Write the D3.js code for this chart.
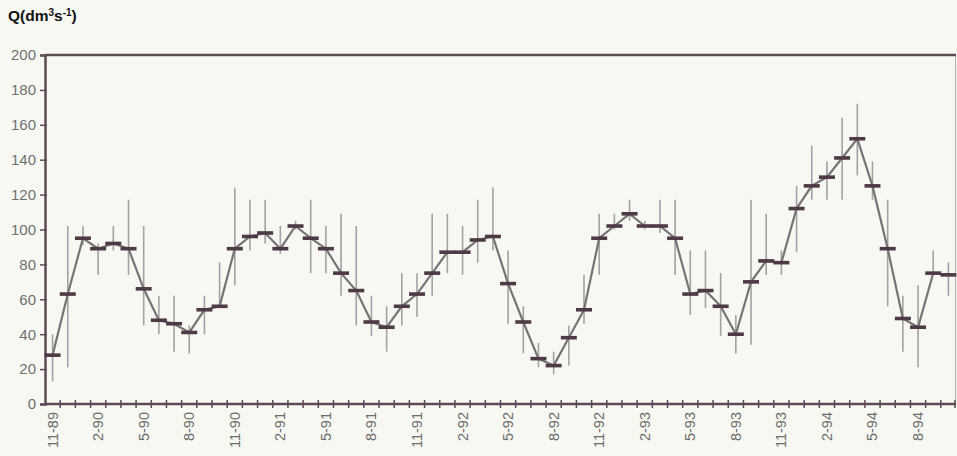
<!DOCTYPE html>
<html>
<head>
<meta charset="utf-8">
<script src="https://cdn.jsdelivr.net/npm/d3@7"></script>
<style>
  html, body { margin: 0; padding: 0; background: #f8f8f3; }
  svg { display: block; }
</style>
</head>
<body>
<svg id="chart" width="957" height="456"></svg>
<script>
// Monthly discharge, Nov 1989 – Oct 1994: monthly mean with its min–max range
const months = [
  "11-89","12-89","1-90","2-90","3-90","4-90","5-90","6-90","7-90","8-90","9-90","10-90",
  "11-90","12-90","1-91","2-91","3-91","4-91","5-91","6-91","7-91","8-91","9-91","10-91",
  "11-91","12-91","1-92","2-92","3-92","4-92","5-92","6-92","7-92","8-92","9-92","10-92",
  "11-92","12-92","1-93","2-93","3-93","4-93","5-93","6-93","7-93","8-93","9-93","10-93",
  "11-93","12-93","1-94","2-94","3-94","4-94","5-94","6-94","7-94","8-94","9-94","10-94"
];
const meanQ = [
  28, 63, 95, 89, 92, 89, 66, 48, 46, 41, 54, 56,
  89, 96, 98, 89, 102, 95, 89, 75, 65, 47, 44, 56,
  63, 75, 87, 87, 94, 96, 69, 47, 26, 22, 38, 54,
  95, 102, 109, 102, 102, 95, 63, 65, 56, 40, 70, 82,
  81, 112, 125, 130, 141, 152, 125, 89, 49, 44, 75, 74
];
const minQ = [
  13, 21, 91, 74, 88, 74, 45, 40, 30, 29, 40, 55,
  68, 88, 92, 86, 100, 75, 75, 62, 45, 39, 30, 45,
  50, 62, 75, 74, 81, 88, 46, 29, 21, 17, 22, 46,
  74, 100, 105, 100, 98, 74, 51, 55, 39, 29, 34, 74,
  74, 87, 117, 117, 117, 131, 117, 56, 30, 21, 74, 62
];
const maxQ = [
  40, 102, 102, 92, 102, 117, 102, 62, 62, 45, 62, 81,
  124, 117, 117, 102, 105, 117, 102, 109, 102, 62, 56, 75,
  75, 109, 109, 102, 117, 124, 88, 56, 35, 30, 45, 74,
  109, 109, 117, 105, 117, 117, 88, 88, 75, 51, 117, 109,
  88, 125, 148, 139, 164, 172, 139, 117, 62, 68, 88, 81
];
const yTicks = [0, 20, 40, 60, 80, 100, 120, 140, 160, 180, 200];
const shownMonths = months.filter((m, i) => i % 3 === 0);

const data = months.map((m, i) => ({ month: m, mean: meanQ[i], lo: minQ[i], hi: maxQ[i] }));

const svg = d3.select("#chart");
const plotLeft = 45, plotRight = 956, plotTop = 55, plotBottom = 404;

const x = d3.scaleBand().domain(months).range([plotLeft, plotRight]).paddingInner(0).paddingOuter(0);
const y = d3.scaleLinear().domain([0, 200]).range([plotBottom, plotTop]);
const cx = m => x(m) + x.bandwidth() / 2;

const axisColor = "#5d4b53";
const labelFont = "Arial, 'Liberation Sans', sans-serif";

// right frame line
svg.append("line")
  .attr("x1", plotRight - 0.5).attr("x2", plotRight - 0.5)
  .attr("y1", plotTop).attr("y2", plotBottom)
  .attr("stroke", "#b8b0b3").attr("stroke-width", 1);

// top frame line
svg.append("line")
  .attr("x1", plotLeft).attr("x2", plotRight)
  .attr("y1", plotTop).attr("y2", plotTop)
  .attr("stroke", axisColor).attr("stroke-width", 2.5);

// y axis
const yAxis = svg.append("g")
  .attr("transform", `translate(${plotLeft},0)`)
  .call(d3.axisLeft(y).tickValues(yTicks).tickSize(5).tickPadding(4).tickFormat(d3.format("d")));
yAxis.select(".domain").attr("stroke", axisColor).attr("stroke-width", 2.5);
yAxis.selectAll(".tick line").attr("stroke", axisColor).attr("stroke-width", 1.5).attr("x2", -5).attr("x1", 2);
yAxis.selectAll(".tick text")
  .attr("fill", "#707070")
  .style("font-family", labelFont)
  .style("font-size", "15px");

// x axis: ticks at month boundaries, labels every third month
const xAxisG = svg.append("g").attr("transform", `translate(0,${plotBottom})`);
xAxisG.append("line")
  .attr("x1", plotLeft).attr("x2", plotRight)
  .attr("stroke", axisColor).attr("stroke-width", 2.5);
xAxisG.selectAll("line.tk")
  .data(months.slice(1).concat(["end"]))
  .join("line")
  .attr("class", "tk")
  .attr("x1", (d, i) => i < months.length - 1 ? x(d) : plotRight - 1)
  .attr("x2", (d, i) => i < months.length - 1 ? x(d) : plotRight - 1)
  .attr("y1", -4).attr("y2", 4)
  .attr("stroke", axisColor).attr("stroke-width", 1.5);
xAxisG.selectAll("text")
  .data(shownMonths)
  .join("text")
  .attr("transform", d => `translate(${cx(d) + 5},8) rotate(-90)`)
  .attr("text-anchor", "end")
  .attr("fill", "#6c6c6c")
  .style("font-family", labelFont)
  .style("font-size", "14.5px")
  .text(d => d);

// range whiskers
svg.append("g").selectAll("line")
  .data(data)
  .join("line")
  .attr("x1", d => cx(d.month)).attr("x2", d => cx(d.month))
  .attr("y1", d => y(d.lo)).attr("y2", d => y(d.hi))
  .attr("stroke", "#a3a1a1").attr("stroke-width", 1.6);

// line through the monthly means
svg.append("path")
  .datum(data)
  .attr("fill", "none")
  .attr("stroke", "#767474")
  .attr("stroke-width", 2.2)
  .attr("d", d3.line().x(d => cx(d.month)).y(d => y(d.mean)));

// mean markers
svg.append("g").selectAll("rect")
  .data(data)
  .join("rect")
  .attr("x", d => cx(d.month) - 8)
  .attr("y", d => y(d.mean) - 1.8)
  .attr("width", 16).attr("height", 3.6)
  .attr("fill", "#4e3a44");

// unit label
const title = svg.append("text")
  .attr("x", 8).attr("y", 21)
  .attr("fill", "#111")
  .style("font-family", labelFont)
  .style("font-weight", "bold")
  .style("font-size", "15.5px");
title.append("tspan").text("Q(dm");
title.append("tspan").attr("font-size", "10px").attr("dy", -5).text("3");
title.append("tspan").attr("dy", 5).text("s");
title.append("tspan").attr("font-size", "10px").attr("dy", -5).text("-1");
title.append("tspan").attr("dy", 5).text(")");
</script>
</body>
</html>
